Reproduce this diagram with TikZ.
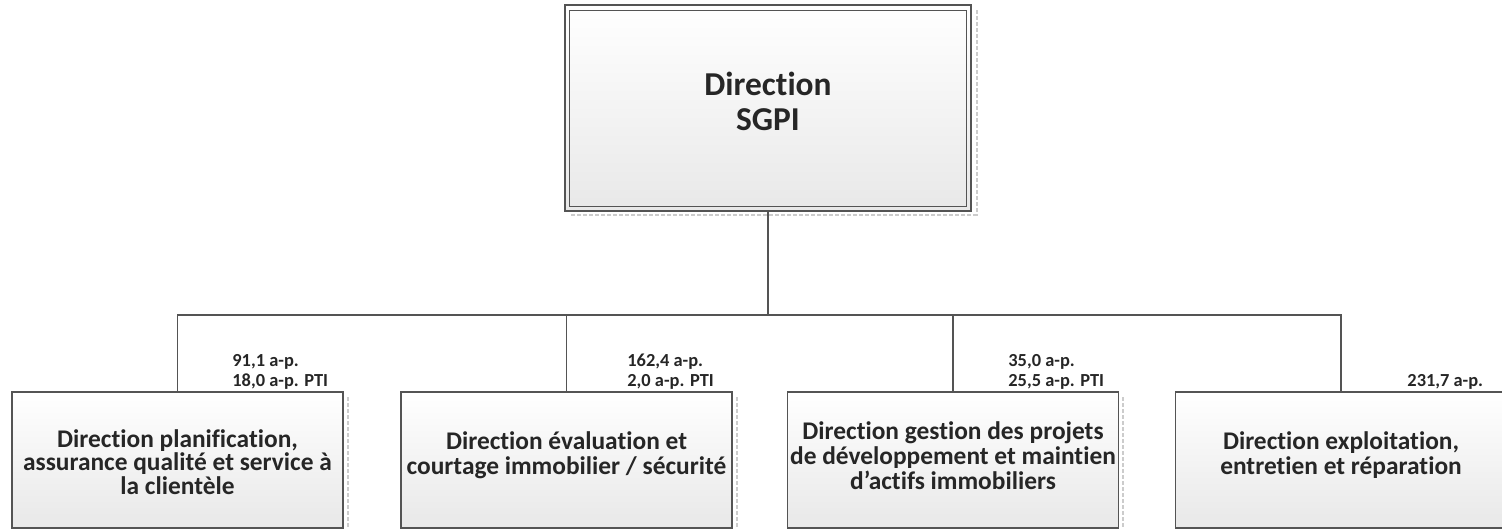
\documentclass[tikz,border=0pt]{standalone}
\usepackage{fontspec}
\setmainfont{Carlito}[Ligatures=NoCommon]
\definecolor{edge}{gray}{0.33}
\definecolor{shade}{gray}{0.80}
\begin{document}
\begin{tikzpicture}[x=0.5pt,y=-0.5pt,
  box/.style={draw=edge, line width=0.7pt, top color=white, bottom color=black!9,
    minimum width=165.5pt, minimum height=68pt, inner sep=0pt},
  boxtext/.style={align=center, inner sep=0pt, font=\bfseries\fontsize{12.7}{12.5}\selectfont, text=black!85},
  link/.style={draw=edge, line width=0.7pt},
  shadowline/.style={draw=shade, line width=1pt, dash pattern=on 2pt off 1pt},
  lbl/.style={align=left, font=\bfseries\fontsize{9.2}{10}\selectfont, inner sep=0pt, anchor=north west, text=black!85}]
\useasboundingbox (0,0) rectangle (1502,530);
\clip (0,0) rectangle (1502,530);
% top box
\node[box, minimum width=203pt, minimum height=103pt] (top) at (768,108) {};
\draw[edge, line width=0.7pt] ([shift={(2.5pt,-3pt)}]top.north west) rectangle ([shift={(-2.5pt,2.5pt)}]top.south east);
\draw[shadowline] ([xshift=2.5pt,yshift=-3pt]top.north east) -- ([xshift=2.5pt,yshift=-1.5pt]top.south east) -- ([xshift=3pt,yshift=-1.5pt]top.south west);
\node[boxtext, font=\bfseries\fontsize{16.7}{17.5}\selectfont] (toptitle) at (768,101) {Direction\\SGPI};
% children
\node[box] (b1) at (177.5,460) {};
\node[box] (b2) at (566.5,460) {};
\node[box] (b3) at (953,460) {};
\node[box] (b4) at (1341,460) {};
\foreach \b in {b1,b2,b3}
  \draw[shadowline] ([xshift=2pt,yshift=-3pt]\b.north east) -- ([xshift=2pt]\b.south east);
\node[boxtext, font=\bfseries\fontsize{12.7}{10}\selectfont] (t1) at (177.5,462) {Direction planification,\\assurance qualité et service à\\la clientèle};
\node[boxtext] (t2) at (566.5,455) {Direction évaluation et\\courtage immobilier / sécurité};
\node[boxtext] (t3) at (953,456) {Direction gestion des projets\\de développement et maintien\\d’actifs immobiliers};
\node[boxtext] (t4) at (1341,455) {Direction exploitation,\\entretien et réparation};
% connectors
\coordinate (bar) at (768,315);
\draw[link] (top.south) -- (bar);
\foreach \b in {b1,b2,b3,b4}
  \draw[link] (bar) -| (\b.north);
% labels
\node[lbl] (l1) at (232,354) {91,1 a-p.\\18,0 a-p. PTI};
\node[lbl] (l2) at (627,354) {162,4 a-p.\\2,0 a-p. PTI};
\node[lbl] (l3) at (1008,354) {35,0 a-p.\\25,5 a-p. PTI};
\node[lbl] (l4) at (1407,374) {231,7 a-p.};
\end{tikzpicture}
\end{document}
